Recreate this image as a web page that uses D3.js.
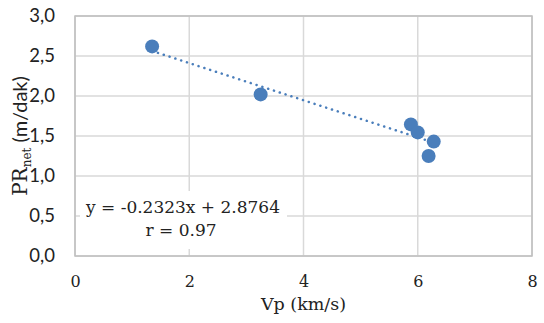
<!DOCTYPE html>
<html><head><meta charset="utf-8">
<script src="https://cdn.jsdelivr.net/npm/d3@7"></script>
<style>body{margin:0;background:#fff}</style>
</head><body>
<svg id="c" width="544" height="323"></svg>
<script>
const vp = [1.35, 3.25, 5.88, 6.0, 6.28, 6.19];
const pr = [2.62, 2.02, 1.645, 1.545, 1.43, 1.25];
const xTicks = [0, 2, 4, 6, 8];
const yTicks = [0, 0.5, 1, 1.5, 2, 2.5, 3];
const slope = -0.2323, intercept = 2.8764;
const eqText = "y = -0.2323x + 2.8764";
const rText = "r = 0.97";

const svg = d3.select("#c");
const x = d3.scaleLinear().domain([0, 8]).range([75, 532]);
const y = d3.scaleLinear().domain([0, 3]).range([256, 16]);
const blue = "#4a7ebb";
const serif = "'DejaVu Serif', 'Liberation Serif', serif";
const sans = "Lato, 'Liberation Sans', sans-serif";

svg.append("g").selectAll("line.v").data(xTicks).join("line")
  .attr("x1", d => x(d)).attr("x2", d => x(d)).attr("y1", y(3)).attr("y2", y(0))
  .attr("stroke", "#d9d9d9").attr("stroke-width", 1.5);
svg.append("g").selectAll("line.h").data(yTicks).join("line")
  .attr("x1", x(0)).attr("x2", x(8)).attr("y1", d => y(d)).attr("y2", d => y(d))
  .attr("stroke", "#d9d9d9").attr("stroke-width", 1.5);
svg.append("rect").attr("x", x(0)).attr("y", y(3)).attr("width", x(8) - x(0)).attr("height", y(0) - y(3))
  .attr("fill", "none").attr("stroke", "#bfbfbf").attr("stroke-width", 1.5);

const xAxis = svg.append("g").attr("transform", `translate(0,${y(0)})`)
  .call(d3.axisBottom(x).tickValues(xTicks).tickSize(0).tickPadding(20).tickFormat(d3.format("d")));
xAxis.select(".domain").remove();
xAxis.selectAll("text").attr("font-family", serif).attr("font-size", 16).attr("fill", "#222");

const yAxis = svg.append("g").attr("transform", `translate(${x(0)},0)`)
  .call(d3.axisLeft(y).tickValues(yTicks).tickSize(0).tickPadding(20)
    .tickFormat(d => d3.format(".1f")(d).replace(".", ",")));
yAxis.select(".domain").remove();
yAxis.selectAll("text").attr("font-family", sans).attr("font-size", 18.5).attr("fill", "#222");

const xs = d3.extent(vp);
svg.append("line")
  .attr("x1", x(xs[0])).attr("y1", y(slope * xs[0] + intercept))
  .attr("x2", x(xs[1])).attr("y2", y(slope * xs[1] + intercept))
  .attr("stroke", blue).attr("stroke-width", 2.5).attr("stroke-dasharray", "0.1,6")
  .attr("stroke-linecap", "round");

svg.append("g").selectAll("circle").data(vp).join("circle")
  .attr("cx", d => x(d)).attr("cy", (d, i) => y(pr[i])).attr("r", 7)
  .attr("fill", blue);

svg.append("rect").attr("x", 80).attr("y", 191).attr("width", 207).attr("height", 58).attr("fill", "#fff");
svg.append("text").attr("x", 183).attr("y", 213).attr("text-anchor", "middle")
  .attr("font-family", serif).attr("font-size", 17).attr("fill", "#222").text(eqText);
svg.append("text").attr("x", 181).attr("y", 236).attr("text-anchor", "middle")
  .attr("font-family", serif).attr("font-size", 17).attr("fill", "#222").text(rText);

svg.append("text").attr("x", x(4)).attr("y", 310).attr("text-anchor", "middle")
  .attr("font-family", serif).attr("font-size", 17.5).attr("fill", "#222").text("Vp (km/s)");
const yt = svg.append("text").attr("transform", "translate(27,136) rotate(-90)").attr("text-anchor", "middle")
  .attr("font-size", 20).attr("fill", "#222");
yt.append("tspan").attr("font-family", serif).text("PR");
yt.append("tspan").attr("font-family", serif).attr("font-size", 12).attr("dy", 4).text("net");
yt.append("tspan").attr("font-family", sans).attr("dy", -4).text(" (m/dak)");
</script>
</body></html>
